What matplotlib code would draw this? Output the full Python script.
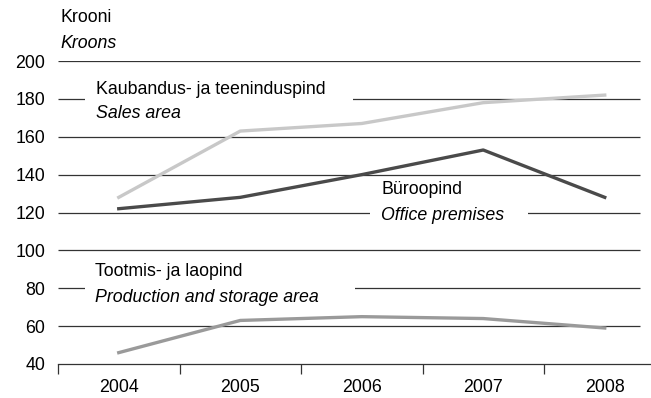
import matplotlib
matplotlib.use("Agg")
import matplotlib.pyplot as plt
import numpy as np

plt.rcParams['font.family'] = ['Liberation Sans', 'DejaVu Sans']

years = ["2004", "2005", "2006", "2007", "2008"]
sales = [128, 163, 167, 178, 182]
office = [122, 128, 140, 153, 128]
production = [46, 63, 65, 64, 59]
yticks = [40, 60, 80, 100, 120, 140, 160, 180, 200]

FS = 12.8
W, H = 651, 398
fig = plt.figure(figsize=(W / 100, H / 100), dpi=100)
left, right = 58, 651
top, bottom = 61, 364
ax = fig.add_axes([left / W, 1 - bottom / H, (right - left) / W, (bottom - top) / H])

step = 121.5
x = np.arange(len(years))
xmax = -0.5 + (right - left) / step
ax.set_xlim(-0.5, xmax)
ax.set_ylim(40, 200)

grid_end = -0.5 + (640 - left) / step
for v in yticks[1:]:
    ax.plot([-0.5, grid_end], [v, v], color='#333333', lw=0.9, zorder=1, solid_capstyle='butt')

ax.plot(x, sales, color='#c8c8c8', lw=2.4, zorder=3)
ax.plot(x, office, color='#4a4a4a', lw=2.4, zorder=3)
ax.plot(x, production, color='#9a9a9a', lw=2.4, zorder=3)

for s in ['top', 'right', 'left']:
    ax.spines[s].set_visible(False)
ax.spines['bottom'].set_color('#333333')
ax.spines['bottom'].set_linewidth(0.9)

ax.set_yticks(yticks)
ax.set_yticklabels([str(v) for v in yticks], fontsize=FS)
ax.tick_params(axis='y', length=0, pad=9)
ax.set_xticks(np.arange(0, len(years)) - 0.5, minor=False)
ax.set_xticklabels([])
ax.tick_params(axis='x', which='major', length=7, color='#333333', width=0.9)
ax.set_xticks(x, minor=True)
ax.set_xticklabels(years, minor=True, fontsize=FS)
ax.tick_params(axis='x', which='minor', length=0, pad=11)


def px2data(px, py):
    return (-0.5 + (px - left) / step, 200 - (py - top) * 160 / (bottom - top))


def label_box(x0, x1, y0, y1):
    a, b = px2data(x0, y0)
    c, d = px2data(x1, y1)
    ax.add_patch(plt.Rectangle((a, d), c - a, b - d, facecolor='white', edgecolor='none', zorder=2))


label_box(85, 353, 78, 122)
label_box(370, 528, 180, 224)
label_box(85, 355, 262, 306)

def txt(px, py, s, style='normal'):
    xx, yy = px2data(px, py)
    ax.text(xx, yy, s, fontsize=FS, style=style, va='center', ha='left', zorder=4)

txt(96, 89, "Kaubandus- ja teeninduspind")
txt(96, 113, "Sales area", 'italic')
txt(381, 190, "Büroopind")
txt(381, 215, "Office premises", 'italic')
txt(95, 272, "Tootmis- ja laopind")
txt(95, 297, "Production and storage area", 'italic')

fig.text(60 / W, 1 - 18 / H, "Krooni", fontsize=FS, va='center', ha='left')
fig.text(60 / W, 1 - 44 / H, "Kroons", fontsize=FS, style='italic', va='center', ha='left')

fig.savefig("out.png", dpi=100)
